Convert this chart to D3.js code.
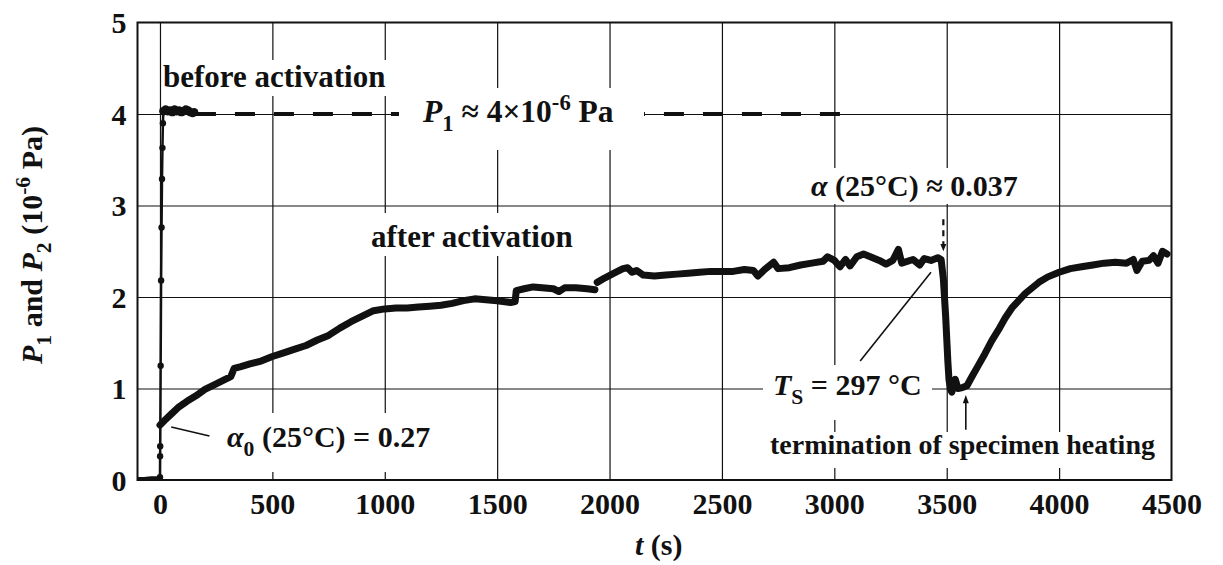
<!DOCTYPE html>
<html>
<head>
<meta charset="utf-8">
<script src="https://cdn.jsdelivr.net/npm/d3@7"></script>
<style>
body { margin: 0; background: #fff; }
text { font-family: "Liberation Serif", "Times New Roman", serif; font-weight: bold; fill: #111; }
</style>
</head>
<body>
<div id="chart"></div>
<script>
// P1 : pressure before activation (10^-6 Pa)
const p1Time  = [-100, -70, -40, -10, 0, 0.5, 1, 3, 5, 7, 9, 11, 13, 15, 25, 35, 45, 55, 65, 75, 85, 95, 105, 115, 125, 135, 145, 152]
const p1Value = [0.01, 0.01, 0.02, 0.02, 0.03, 0.26, 0.37, 1.25, 2.18, 2.76, 3.29, 3.63, 3.90, 4.03, 4.05, 4.03, 4.04, 4.02, 4.05, 4.03, 4.04, 4.02, 4.03, 4.05, 4.04, 4.02, 4.01, 4.02]

// nominal P1 level, drawn dashed
const p1Level = 4
const p1LevelRange = [160, 3040]

// P2 : pressure after activation (10^-6 Pa), null = gap in the record
const p2Time = [0, 20, 50, 80, 120, 160, 200, 250, 290, 315, 330, 360, 400, 450, 500, 550, 600, 650, 700, 750,
  800, 850, 900, 950, 1000, 1050, 1100, 1150, 1200, 1250, 1300, 1350, 1400, 1450, 1500, 1560, 1580, 1585, 1620, 1660,
  1700, 1750, 1775, 1800, 1850, 1900, 1935, 1940, 1945, 1980, 2020, 2060, 2080, 2100, 2120, 2150, 2200, 2250, 2300, 2350,
  2400, 2450, 2500, 2550, 2600, 2640, 2660, 2690, 2730, 2750, 2800, 2850, 2900, 2950, 2970, 3000, 3025, 3050, 3070, 3100,
  3130, 3160, 3200, 3230, 3260, 3285, 3300, 3350, 3380, 3400, 3430, 3460, 3475, 3485, 3490, 3495, 3500, 3505, 3510, 3517,
  3523, 3530, 3538, 3550, 3570, 3590, 3610, 3640, 3670, 3700, 3730, 3760, 3790, 3820, 3850, 3880, 3910, 3950, 4000, 4050,
  4100, 4150, 4200, 4250, 4300, 4330, 4346, 4370, 4400, 4420, 4440, 4460, 4480]
const p2Value = [0.60, 0.65, 0.72, 0.79, 0.86, 0.92, 0.99, 1.05, 1.10, 1.13, 1.22, 1.24, 1.27, 1.30, 1.35, 1.39, 1.43, 1.47, 1.53, 1.58,
  1.66, 1.73, 1.79, 1.85, 1.87, 1.88, 1.88, 1.89, 1.90, 1.91, 1.93, 1.96, 1.98, 1.97, 1.96, 1.94, 1.95, 2.07, 2.09, 2.11,
  2.10, 2.09, 2.06, 2.10, 2.10, 2.09, 2.08, null, 2.16, 2.21, 2.26, 2.31, 2.32, 2.27, 2.29, 2.24, 2.23, 2.24, 2.25, 2.26,
  2.27, 2.28, 2.28, 2.28, 2.30, 2.29, 2.23, 2.30, 2.38, 2.31, 2.32, 2.35, 2.37, 2.39, 2.44, 2.40, 2.33, 2.41, 2.34, 2.44,
  2.47, 2.44, 2.40, 2.36, 2.40, 2.52, 2.37, 2.41, 2.35, 2.42, 2.40, 2.43, 2.41, 2.20, 2.00, 1.80, 1.55, 1.30, 1.10, 0.99,
  0.96, 1.05, 1.10, 1.00, 1.01, 1.03, 1.12, 1.25, 1.38, 1.52, 1.64, 1.77, 1.88, 1.96, 2.04, 2.10, 2.16, 2.22, 2.27, 2.31,
  2.33, 2.35, 2.37, 2.38, 2.37, 2.41, 2.29, 2.39, 2.40, 2.45, 2.37, 2.50, 2.47]

const xTicks = [0, 500, 1000, 1500, 2000, 2500, 3000, 3500, 4000, 4500]
const yTicks = [0, 1, 2, 3, 4, 5]

// setting constants
const width = 1223
const height = 565
const margins = {top: 22.5, right: 51.5, bottom: 85, left: 137.5}
const innerW = width - margins.left - margins.right
const innerH = height - margins.top - margins.bottom

const xScale = d3.scaleLinear().domain([-100, 4500]).range([margins.left, margins.left + innerW])
const yScale = d3.scaleLinear().domain([0, 5]).range([margins.top + innerH, margins.top])

const svg = d3.select("#chart")
  .append("svg")
  .attr("width", width)
  .attr("height", height)

// grid
svg.append("g")
  .attr("transform", `translate(0, ${margins.top + innerH})`)
  .call(d3.axisBottom(xScale).tickValues(xTicks.slice(0, -1)).tickSize(-innerH).tickFormat(""))
  .call(g => g.select(".domain").remove())
  .call(g => g.selectAll("line").attr("stroke", "#111").attr("stroke-width", 1.2))

svg.append("g")
  .attr("transform", `translate(${margins.left}, 0)`)
  .call(d3.axisLeft(yScale).tickValues(yTicks.slice(1, -1)).tickSize(-innerW).tickFormat(""))
  .call(g => g.select(".domain").remove())
  .call(g => g.selectAll("line").attr("stroke", "#111").attr("stroke-width", 1.2))

// tick labels
svg.append("g")
  .attr("transform", `translate(0, ${margins.top + innerH + 5})`)
  .call(d3.axisBottom(xScale).tickValues(xTicks).tickSize(0).tickPadding(0).tickFormat(d3.format("d")))
  .call(g => g.select(".domain").remove())
  .call(g => g.selectAll("text").attr("font-size", 30).attr("font-family", null).attr("fill", "#111").attr("dy", "0.95em"))

svg.append("g")
  .attr("transform", `translate(${margins.left - 11}, 0)`)
  .call(d3.axisLeft(yScale).tickValues(yTicks).tickSize(0).tickPadding(0).tickFormat(d3.format("d")))
  .call(g => g.select(".domain").remove())
  .call(g => g.selectAll("text").attr("font-size", 30).attr("font-family", null).attr("fill", "#111").attr("dy", "0.34em"))

// P1 nominal level, dashed
svg.append("line")
  .attr("x1", xScale(p1LevelRange[0]))
  .attr("x2", xScale(p1LevelRange[1]))
  .attr("y1", yScale(p1Level))
  .attr("y2", yScale(p1Level))
  .attr("stroke", "#111")
  .attr("stroke-width", 4)
  .attr("stroke-dasharray", "20,19")

// P1 data
const p1 = p1Time.map((t, i) => ({t, v: p1Value[i]}))
const line = d3.line().x(d => xScale(d.t)).y(d => yScale(d.v)).defined(d => d.v != null)

svg.append("path")
  .datum(p1)
  .attr("d", line)
  .attr("fill", "none")
  .attr("stroke", "#111")
  .attr("stroke-width", 2.5)

svg.selectAll("circle.p1")
  .data(p1.filter(d => d.t >= 0))
  .join("circle")
  .attr("class", "p1")
  .attr("cx", d => xScale(d.t))
  .attr("cy", d => yScale(d.v))
  .attr("r", d => d.v > 3.95 ? 4.2 : 3.2)
  .attr("fill", "#111")

svg.append("path")
  .datum(p1.filter(d => d.t <= 0))
  .attr("d", line)
  .attr("fill", "none")
  .attr("stroke", "#111")
  .attr("stroke-width", 4)

// P2 data
const p2 = p2Time.map((t, i) => ({t, v: p2Value[i]}))
svg.append("path")
  .datum(p2)
  .attr("d", line)
  .attr("fill", "none")
  .attr("stroke", "#111")
  .attr("stroke-width", 7)
  .attr("stroke-linejoin", "round")
  .attr("stroke-linecap", "round")

// labels with white background
function addLabel(parts, x, y, box, size = 30) {
  if (box) {
    svg.append("rect")
      .attr("x", box[0]).attr("y", box[1])
      .attr("width", box[2] - box[0]).attr("height", box[3] - box[1])
      .attr("fill", "#fff")
  }
  const txt = svg.append("text").attr("x", x).attr("y", y).attr("font-size", size)
  let shift = 0
  parts.forEach(p => {
    const s = p.sub ? 9 : p.sup ? -12 : 0
    txt.append("tspan")
      .attr("dy", s - shift)
      .attr("font-size", p.sub || p.sup ? size * 0.72 : size)
      .attr("font-style", p.italic ? "italic" : null)
      .text(p.t)
    shift = s
  })
}

addLabel([{t: "before activation"}], 163, 87, [163, 60, 392, 96], 31)
addLabel([{t: "P", italic: true}, {t: "1", sub: true}, {t: " \u2248 4\u00d710"}, {t: "-6", sup: true}, {t: " Pa"}], 423, 122, [399, 88, 644, 150], 31.5)
addLabel([{t: "after activation"}], 371, 247, [365, 213, 578, 256], 31)
addLabel([{t: "\u03b1", italic: true}, {t: " (25\u00b0C) \u2248 0.037"}], 811, 196, [805, 168, 1025, 204])
addLabel([{t: "T", italic: true}, {t: "S", sub: true}, {t: " = 297 \u00b0C"}], 773, 395, [763, 365, 932, 420])
addLabel([{t: "termination of specimen heating"}], 770, 454, [765, 432, 1160, 468], 28)
addLabel([{t: "\u03b1", italic: true}, {t: "0", sub: true}, {t: " (25\u00b0C) = 0.27"}], 227, 447, [220, 413, 440, 472])

// leader lines and arrows
svg.append("line")
  .attr("x1", xScale(50)).attr("y1", yScale(0.58))
  .attr("x2", xScale(220)).attr("y2", yScale(0.48))
  .attr("stroke", "#111").attr("stroke-width", 1.6)

svg.append("line")
  .attr("x1", xScale(3115)).attr("y1", yScale(1.30))
  .attr("x2", xScale(3430)).attr("y2", yScale(2.27))
  .attr("stroke", "#111").attr("stroke-width", 1.6)

// upward arrow: end of specimen heating
const upX = xScale(3585)
svg.append("line")
  .attr("x1", upX).attr("x2", upX)
  .attr("y1", yScale(0.55)).attr("y2", yScale(0.85))
  .attr("stroke", "#111").attr("stroke-width", 1.6)
svg.append("path")
  .attr("d", `M${upX - 3},${yScale(0.84)} L${upX},${yScale(0.93)} L${upX + 3},${yScale(0.84)} Z`)
  .attr("fill", "#111")

// dashed downward arrow to the drop
const dnX = xScale(3485)
svg.append("line")
  .attr("x1", dnX).attr("x2", dnX)
  .attr("y1", yScale(2.85)).attr("y2", yScale(2.57))
  .attr("stroke", "#111").attr("stroke-width", 2.2)
  .attr("stroke-dasharray", "6,5")
svg.append("path")
  .attr("d", `M${dnX - 3},${yScale(2.58)} L${dnX},${yScale(2.50)} L${dnX + 3},${yScale(2.58)} Z`)
  .attr("fill", "#111")

// plot border
svg.append("rect")
  .attr("x", margins.left)
  .attr("y", margins.top)
  .attr("width", innerW)
  .attr("height", innerH)
  .attr("fill", "none")
  .attr("stroke", "#111")
  .attr("stroke-width", 2)

// axis titles
addLabel([{t: "t", italic: true}, {t: " (s)"}], 635, 555, null)

const yTitle = svg.append("text")
  .attr("transform", "translate(42, 245) rotate(-90)")
  .attr("text-anchor", "middle")
  .attr("font-size", 30)
const yParts = [{t: "P", italic: true}, {t: "1", sub: true}, {t: " and "}, {t: "P", italic: true}, {t: "2", sub: true}, {t: " (10"}, {t: "-6", sup: true}, {t: " Pa)"}]
let yShift = 0
yParts.forEach(p => {
  const s = p.sub ? 9 : p.sup ? -12 : 0
  yTitle.append("tspan")
    .attr("dy", s - yShift)
    .attr("font-size", p.sub || p.sup ? 21.6 : 30)
    .attr("font-style", p.italic ? "italic" : null)
    .text(p.t)
  yShift = s
})
</script>
</body>
</html>
